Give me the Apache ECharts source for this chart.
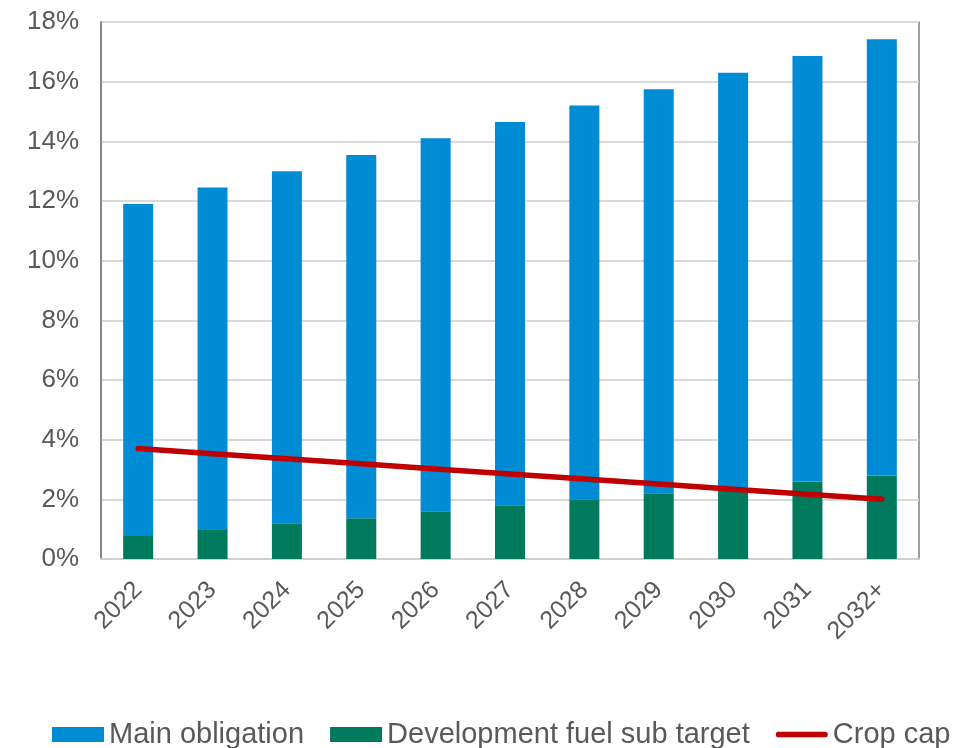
<!DOCTYPE html>
<html>
<head>
<meta charset="utf-8">
<script src="https://cdn.jsdelivr.net/npm/echarts@6/dist/echarts.min.js"></script>
<style>
  html, body { margin: 0; padding: 0; background: #fff; }
  #chart { width: 958px; height: 748px; }
</style>
</head>
<body>
<div id="chart"></div>
<script>
// data
const years = ['2022', '2023', '2024', '2025', '2026', '2027', '2028', '2029', '2030', '2031', '2032+']
const devFuel = [0.8, 1.0, 1.2, 1.37, 1.6, 1.8, 2.0, 2.2, 2.4, 2.6, 2.8]
const mainObligation = [11.1, 11.45, 11.8, 12.17, 12.5, 12.85, 13.2, 13.55, 13.9, 14.26, 14.62]
const cropCap = [3.7, 3.53, 3.36, 3.19, 3.02, 2.85, 2.68, 2.51, 2.34, 2.17, 2.0]

const textColor = '#595959'
const chart = echarts.init(document.getElementById('chart'))

chart.setOption({
  animation: false,
  textStyle: { fontFamily: 'Liberation Sans, Arial, sans-serif' },
  grid: {
    left: 101,
    right: 39,
    top: 22,
    bottom: 189,
    show: true,
    borderColor: '#7f7f7f',
    borderWidth: 1.5
  },
  legend: {
    data: [
      { name: 'Main obligation', icon: 'rect' },
      { name: 'Development fuel sub target', icon: 'rect' },
      // red line icon, rounded ends
      { name: 'Crop cap', icon: 'path://M3,0 L52,0 A3,3 0 0 1 52,6 L3,6 A3,3 0 0 1 3,0 Z' }
    ],
    top: 715,
    left: 47,
    itemWidth: 52,
    itemHeight: 15,
    itemGap: 26,
    textStyle: { fontSize: 29, color: textColor }
  },
  xAxis: {
    type: 'category',
    data: years,
    axisLine: { show: true, lineStyle: { color: '#d0d0d0', width: 2 } },
    axisTick: { show: false },
    axisLabel: {
      rotate: 45,
      margin: 27,
      fontSize: 25,
      color: textColor
    }
  },
  yAxis: {
    type: 'value',
    min: 0,
    max: 18,
    interval: 2,
    axisLine: { show: true, lineStyle: { color: '#7f7f7f', width: 1.5 } },
    axisTick: { show: false },
    axisLabel: {
      formatter: '{value}%',
      fontSize: 26,
      margin: 22,
      color: textColor
    },
    splitLine: { lineStyle: { color: '#d9d9d9', width: 2 } }
  },
  series: [
    {
      name: 'Development fuel sub target',
      type: 'bar',
      stack: 'total',
      barWidth: 30,
      data: devFuel,
      itemStyle: { color: '#007A5C' }
    },
    {
      name: 'Main obligation',
      type: 'bar',
      stack: 'total',
      barWidth: 30,
      data: mainObligation,
      itemStyle: { color: '#008BD5' }
    },
    {
      name: 'Crop cap',
      type: 'line',
      data: cropCap,
      symbol: 'none',
      lineStyle: { color: '#C00000', width: 5.5, cap: 'round' },
      itemStyle: { color: '#C00000' }
    }
  ]
})
</script>
</body>
</html>
